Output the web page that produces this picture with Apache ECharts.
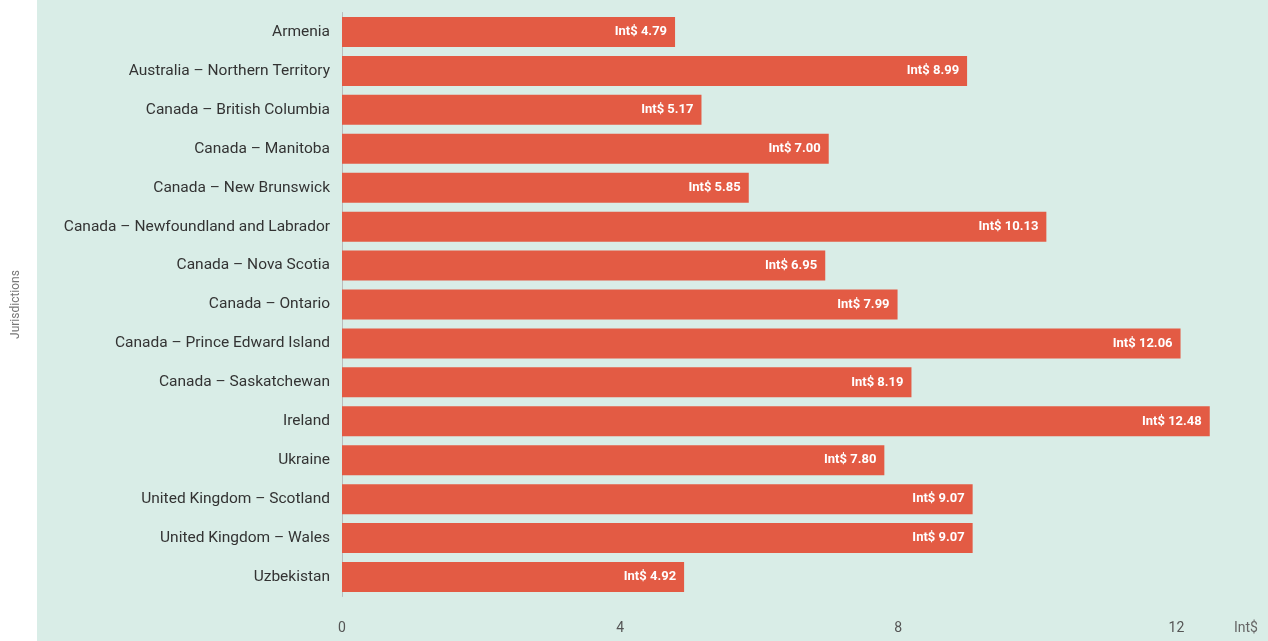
<!DOCTYPE html>
<html><head><meta charset="utf-8">
<script src="https://cdn.jsdelivr.net/npm/echarts@6/dist/echarts.min.js"></script>
<style>html,body{margin:0;padding:0;background:#fff}#c{width:1268px;height:641px}</style>
</head><body><div id="c"></div>
<script>
const categories = ["Armenia","Australia – Northern Territory","Canada – British Columbia","Canada – Manitoba","Canada – New Brunswick","Canada – Newfoundland and Labrador","Canada – Nova Scotia","Canada – Ontario","Canada – Prince Edward Island","Canada – Saskatchewan","Ireland","Ukraine","United Kingdom – Scotland","United Kingdom – Wales","Uzbekistan"];
const values = [4.79, 8.99, 5.17, 7.00, 5.85, 10.13, 6.95, 7.99, 12.06, 8.19, 12.48, 7.80, 9.07, 9.07, 4.92];
const xTicks = [0, 4, 8, 12];
const FONT = 'Roboto, "Liberation Sans", sans-serif';
const chart = echarts.init(document.getElementById('c'));
chart.setOption({
  backgroundColor: '#ffffff',
  animation: false,
  graphic: [{type:'rect', z:-10, shape:{x:37,y:0,width:1231,height:641}, style:{fill:'#d9ede7'}}],
  grid: {left: 342, right: 36, top: 12.5, bottom: 44.5, containLabel: false, outerBoundsMode: 'none'},
  xAxis: {
    type: 'value', min: 0, max: 12.8, interval: 4,
    name: 'Int$', nameLocation: 'end', nameGap: 2,
    nameTextStyle: {fontFamily: FONT, fontSize: 14, color: '#666', verticalAlign: 'top', padding:[25,0,0,0]},
    axisLine: {show: false}, axisTick: {show: false}, splitLine: {show: false},
    axisLabel: {fontFamily: FONT, fontSize: 14, color: '#555', margin: 25,
      formatter: v => xTicks.includes(v) ? String(v) : ''}
  },
  yAxis: {
    type: 'category', data: categories, inverse: true,
    name: 'Jurisdictions', nameLocation: 'middle', nameGap: 320, nameRotate: 90,
    nameTextStyle: {fontFamily: FONT, fontSize: 12, color: '#777'},
    axisLine: {show: true, lineStyle: {color: '#bbb', width: 1}}, axisTick: {show: false},
    axisLabel: {fontFamily: FONT, fontSize: 15.5, color: '#333', margin: 12, padding: [3,0,0,0]}
  },
  series: [{
    type: 'bar', data: values, barWidth: 30,
    itemStyle: {color: '#e35b44'},
    label: {show: true, position: 'insideRight', distance: 8, color: '#fff', fontFamily: FONT, fontWeight: 'bold', fontSize: 13,
      formatter: p => 'Int$ ' + p.value.toFixed(2)}
  }]
});
</script></body></html>
